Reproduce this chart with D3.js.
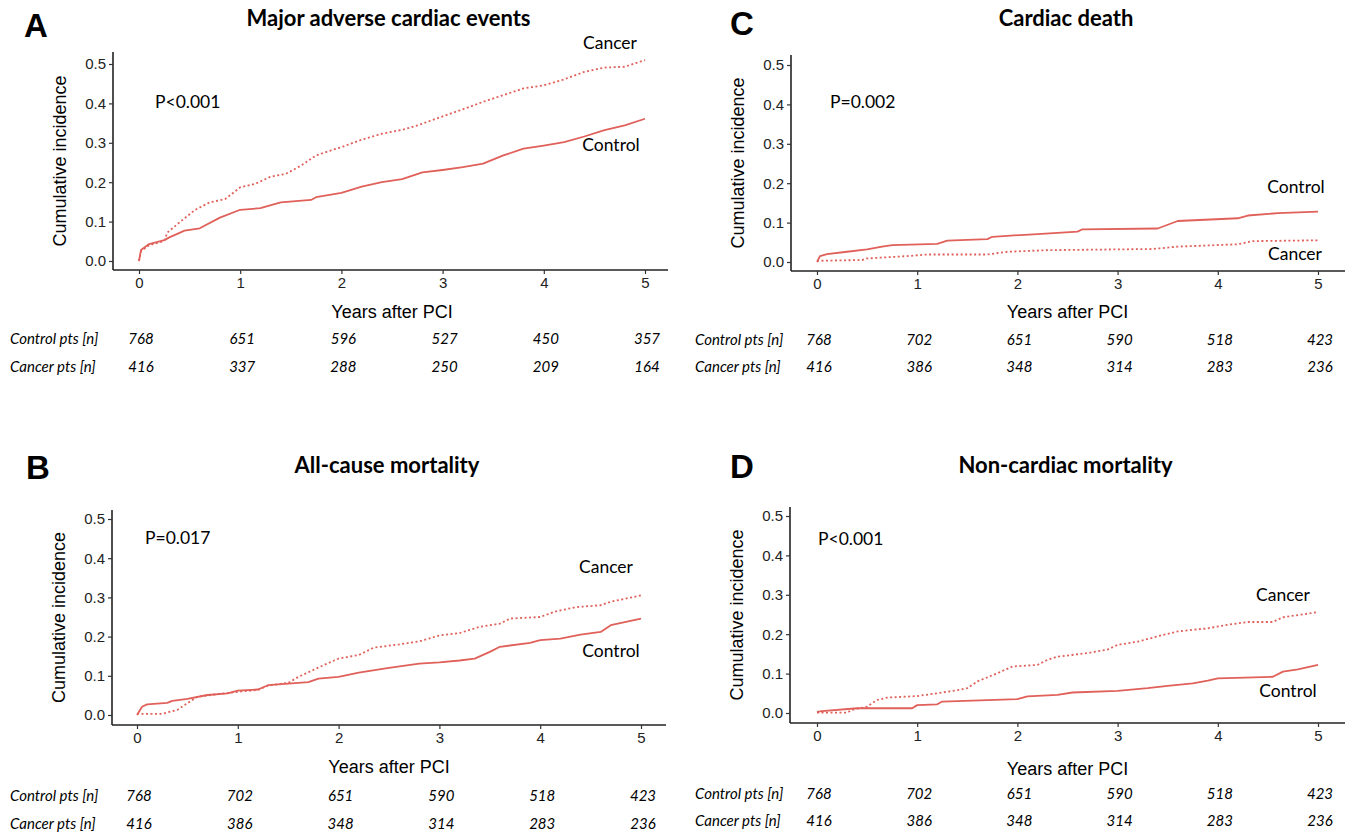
<!DOCTYPE html>
<html>
<head>
<meta charset="utf-8">
<script src="https://cdn.jsdelivr.net/npm/d3@7"></script>
<style>
  body { margin: 0; background: #fff; }
  svg { display: block; }
</style>
</head>
<body>
<div id="chart"></div>
<script>
// [years, cumulative incidence]
const maceControl = [[0,0],[0.02,0.028],[0.1,0.043],[0.25,0.053],[0.3,0.06],[0.45,0.077],[0.6,0.083],[0.8,0.11],[1.0,0.13],[1.2,0.134],[1.4,0.149],[1.7,0.155],[1.75,0.162],[2.0,0.173],[2.2,0.189],[2.4,0.2],[2.6,0.208],[2.8,0.225],[3.0,0.231],[3.2,0.238],[3.4,0.247],[3.6,0.268],[3.8,0.285],[4.0,0.293],[4.2,0.302],[4.4,0.316],[4.6,0.332],[4.8,0.344],[5.0,0.361]];
const maceCancer = [[0,0],[0.02,0.025],[0.1,0.04],[0.25,0.051],[0.28,0.072],[0.4,0.098],[0.55,0.129],[0.7,0.149],[0.85,0.157],[1.0,0.187],[1.15,0.196],[1.3,0.214],[1.45,0.221],[1.6,0.242],[1.75,0.268],[1.9,0.281],[2.0,0.289],[2.2,0.308],[2.4,0.323],[2.6,0.333],[2.75,0.344],[3.0,0.367],[3.2,0.385],[3.4,0.404],[3.6,0.421],[3.8,0.438],[4.0,0.446],[4.2,0.461],[4.4,0.48],[4.6,0.491],[4.8,0.493],[5.0,0.51]];

const cardiacControl = [[0,0],[0.03,0.015],[0.1,0.02],[0.3,0.026],[0.5,0.032],[0.65,0.039],[0.75,0.043],[1.2,0.046],[1.3,0.054],[1.7,0.058],[1.75,0.064],[2.2,0.071],[2.6,0.077],[2.65,0.083],[3.4,0.085],[3.6,0.104],[4.2,0.111],[4.3,0.118],[4.6,0.124],[5.0,0.128]];
const cardiacCancer = [[0,0.003],[0.45,0.005],[0.5,0.009],[0.9,0.015],[1.1,0.019],[1.7,0.019],[1.9,0.026],[2.3,0.03],[3.35,0.033],[3.6,0.039],[4.2,0.045],[4.35,0.053],[5.0,0.055]];

const allControl = [[0,0],[0.05,0.021],[0.1,0.027],[0.3,0.031],[0.35,0.036],[0.5,0.041],[0.7,0.051],[0.9,0.055],[1.0,0.062],[1.2,0.065],[1.3,0.076],[1.7,0.084],[1.8,0.093],[2.0,0.097],[2.2,0.108],[2.5,0.12],[2.8,0.131],[3.0,0.134],[3.2,0.139],[3.35,0.144],[3.5,0.161],[3.6,0.174],[3.9,0.184],[4.0,0.191],[4.2,0.195],[4.4,0.205],[4.6,0.212],[4.7,0.229],[5.0,0.246]];
const allCancer = [[0,0.003],[0.25,0.003],[0.4,0.013],[0.6,0.047],[0.8,0.053],[1.0,0.059],[1.2,0.064],[1.3,0.075],[1.5,0.082],[1.6,0.097],[1.85,0.127],[2.0,0.144],[2.2,0.153],[2.35,0.172],[2.6,0.18],[2.8,0.188],[3.0,0.203],[3.2,0.209],[3.4,0.225],[3.6,0.233],[3.7,0.246],[4.0,0.25],[4.15,0.264],[4.35,0.275],[4.6,0.28],[4.7,0.289],[5.0,0.305]];

const noncardControl = [[0,0.003],[0.05,0.005],[0.4,0.012],[0.95,0.012],[1.0,0.02],[1.2,0.022],[1.25,0.029],[2.0,0.035],[2.1,0.042],[2.4,0.046],[2.55,0.052],[3.0,0.056],[3.3,0.063],[3.5,0.069],[3.75,0.075],[3.9,0.082],[4.0,0.088],[4.55,0.092],[4.65,0.105],[4.8,0.111],[5.0,0.122]];
const noncardCancer = [[0,0.001],[0.3,0.001],[0.35,0.008],[0.5,0.016],[0.6,0.033],[0.7,0.039],[1.0,0.043],[1.2,0.05],[1.4,0.058],[1.5,0.063],[1.6,0.08],[1.8,0.101],[1.95,0.118],[2.2,0.122],[2.3,0.135],[2.4,0.143],[2.7,0.152],[2.9,0.161],[3.0,0.173],[3.2,0.181],[3.45,0.198],[3.6,0.207],[3.9,0.215],[4.1,0.224],[4.3,0.231],[4.55,0.231],[4.65,0.243],[5.0,0.256]];

const yearTicks = [0, 1, 2, 3, 4, 5];
const incidenceTicks = [0, 0.1, 0.2, 0.3, 0.4, 0.5];

const riskControlMace = [768, 651, 596, 527, 450, 357];
const riskCancerMace = [416, 337, 288, 250, 209, 164];
const riskControlOther = [768, 702, 651, 590, 518, 423];
const riskCancerOther = [416, 386, 348, 314, 283, 236];

const panels = [
  {letter: 'A', title: 'Major adverse cardiac events', p: 'P<0.001', control: maceControl, cancer: maceCancer,
   riskControl: riskControlMace, riskCancer: riskCancerMace,
   left: 113, x0: 139, x5: 645, right: 668, top: 52, y0: 261, y5: 64, axisY: 270, titleY: 20, letterX: 24, letterY: 28,
   pX: 155, pY: 104, cancerLab: [610, 45], controlLab: [611, 147], xTitleY: 313, rowY: [340, 368], rowX: 10},
  {letter: 'C', title: 'Cardiac death', p: 'P=0.002', control: cardiacControl, cancer: cardiacCancer,
   riskControl: riskControlOther, riskCancer: riskCancerOther,
   left: 791, x0: 817, x5: 1318, right: 1345, top: 55, y0: 262, y5: 65, axisY: 271, titleY: 20, letterX: 730, letterY: 26,
   pX: 830, pY: 104, cancerLab: [1295, 256], controlLab: [1296, 189], xTitleY: 313, rowY: [341, 368], rowX: 695},
  {letter: 'B', title: 'All-cause mortality', p: 'P=0.017', control: allControl, cancer: allCancer,
   riskControl: riskControlOther, riskCancer: riskCancerOther,
   left: 112, x0: 137, x5: 641, right: 666, top: 510, y0: 715, y5: 519, axisY: 725, titleY: 467, letterX: 26, letterY: 470,
   pX: 145, pY: 540, cancerLab: [606, 569], controlLab: [611, 653], xTitleY: 768, rowY: [797, 825], rowX: 10},
  {letter: 'D', title: 'Non-cardiac mortality', p: 'P<0.001', control: noncardControl, cancer: noncardCancer,
   riskControl: riskControlOther, riskCancer: riskCancerOther,
   left: 790, x0: 817, x5: 1318, right: 1345, top: 507, y0: 713, y5: 516, axisY: 723, titleY: 467, letterX: 730, letterY: 469,
   pX: 818, pY: 541, cancerLab: [1283, 597], controlLab: [1288, 693], xTitleY: 770, rowY: [795, 822], rowX: 695}
];

const lineColor = '#e0605a';
const labelFont = 'Lato, "Open Sans", sans-serif';
const axisFont = '"Liberation Sans", Arial, sans-serif';

const svg = d3.select('#chart')
  .append('svg')
  .attr('width', 1351)
  .attr('height', 836);

const drawPanel = pn => {
  const g = svg.append('g');
  const x = d3.scaleLinear().domain([0, 5]).range([pn.x0, pn.x5]);
  const y = d3.scaleLinear().domain([0, 0.5]).range([pn.y0, pn.y5]);

  // axes
  const yAxis = g.append('g')
    .attr('transform', `translate(${pn.left},0)`)
    .call(d3.axisLeft(y).tickValues(incidenceTicks).tickFormat(d3.format('.1f')).tickSize(4).tickPadding(3));
  yAxis.select('.domain').attr('d', `M0,${pn.top}V${pn.axisY}`);

  const xAxis = g.append('g')
    .attr('transform', `translate(0,${pn.axisY})`)
    .call(d3.axisBottom(x).tickValues(yearTicks).tickFormat(d3.format('d')).tickSize(4).tickPadding(3));
  xAxis.select('.domain').attr('d', `M${pn.left},0H${pn.right}`);

  g.selectAll('.domain').attr('stroke', '#222').attr('stroke-width', 1.6);
  g.selectAll('.tick line').attr('stroke', '#333').attr('stroke-width', 1.2);
  g.selectAll('.tick text')
    .attr('fill', '#222')
    .style('font-family', axisFont)
    .style('font-size', '15px');

  // curves
  const line = d3.line()
    .x(d => x(d[0]))
    .y(d => y(d[1]));

  g.append('path')
    .datum(pn.control)
    .attr('fill', 'none')
    .attr('stroke', lineColor)
    .attr('stroke-width', 1.8)
    .attr('stroke-linejoin', 'round')
    .attr('d', line);

  g.append('path')
    .datum(pn.cancer)
    .attr('fill', 'none')
    .attr('stroke', lineColor)
    .attr('stroke-width', 1.8)
    .attr('stroke-dasharray', '2,2.5')
    .attr('d', line);

  // text
  g.append('text')
    .attr('x', pn.letterX)
    .attr('y', pn.letterY)
    .attr('dominant-baseline', 'middle')
    .style('font-family', axisFont)
    .style('font-weight', 'bold')
    .style('font-size', '33px')
    .text(pn.letter);

  g.append('text')
    .attr('x', (pn.left + pn.right) / 2 - 2)
    .attr('y', pn.titleY)
    .attr('text-anchor', 'middle')
    .attr('dominant-baseline', 'middle')
    .style('font-family', labelFont)
    .style('font-weight', 'bold')
    .style('font-size', '22px')
    .text(pn.title);

  g.append('text')
    .attr('x', pn.pX)
    .attr('y', pn.pY)
    .attr('dominant-baseline', 'middle')
    .style('font-family', labelFont)
    .style('font-size', '17.5px')
    .text(pn.p);

  g.append('text')
    .attr('x', pn.cancerLab[0])
    .attr('y', pn.cancerLab[1])
    .attr('text-anchor', 'middle')
    .attr('dominant-baseline', 'middle')
    .style('font-family', labelFont)
    .style('font-size', '17.5px')
    .text('Cancer');

  g.append('text')
    .attr('x', pn.controlLab[0])
    .attr('y', pn.controlLab[1])
    .attr('text-anchor', 'middle')
    .attr('dominant-baseline', 'middle')
    .style('font-family', labelFont)
    .style('font-size', '17.5px')
    .text('Control');

  g.append('text')
    .attr('x', (pn.x0 + pn.x5) / 2)
    .attr('y', pn.xTitleY)
    .attr('text-anchor', 'middle')
    .attr('dominant-baseline', 'middle')
    .style('font-family', axisFont)
    .style('font-size', '18px')
    .text('Years after PCI');

  g.append('text')
    .attr('transform', `translate(${pn.left - 52},${(pn.top + pn.axisY) / 2}) rotate(-90)`)
    .attr('text-anchor', 'middle')
    .attr('dominant-baseline', 'middle')
    .style('font-family', axisFont)
    .style('font-size', '18px')
    .text('Cumulative incidence');

  // risk table
  const rows = [
    {label: 'Control pts [n]', values: pn.riskControl, yy: pn.rowY[0]},
    {label: 'Cancer pts [n]', values: pn.riskCancer, yy: pn.rowY[1]}
  ];
  rows.forEach(r => {
    g.append('text')
      .attr('x', pn.rowX)
      .attr('y', r.yy)
      .attr('dominant-baseline', 'middle')
      .style('font-family', labelFont)
      .style('font-style', 'italic')
      .style('font-size', '15px')
      .text(r.label);
    g.selectAll(null)
      .data(r.values)
      .enter()
      .append('text')
      .attr('x', (d, i) => x(yearTicks[i]) + 2)
      .attr('y', r.yy)
      .attr('text-anchor', 'middle')
      .attr('dominant-baseline', 'middle')
      .style('font-family', labelFont)
      .style('font-style', 'italic')
      .style('font-size', '15px')
      .text(d => d);
  });
};

panels.forEach(drawPanel);
</script>
</body>
</html>
